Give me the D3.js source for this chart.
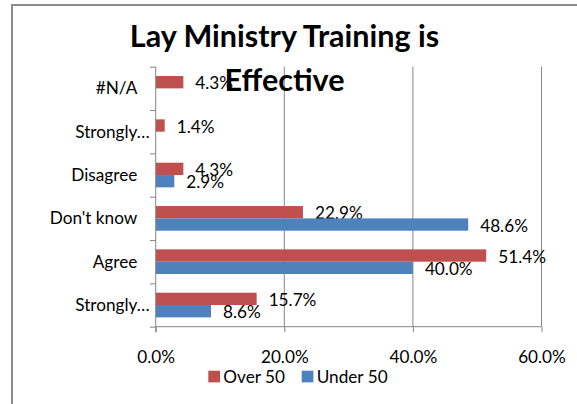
<!DOCTYPE html>
<html>
<head>
<meta charset="utf-8">
<script src="https://cdn.jsdelivr.net/npm/d3@7"></script>
<style>
  body { margin: 0; background: #fff; }
  svg { font-family: Lato, "Open Sans", sans-serif; }
</style>
</head>
<body>
<svg id="chart" width="577" height="404"></svg>
<script>
// categories top to bottom, as they appear in the chart
var categories = ["#N/A", "Strongly…", "Disagree", "Don't know", "Agree", "Strongly…."];
var seriesNames = ["Over 50", "Under 50"];
var over50 = [4.3, 1.4, 4.3, 22.9, 51.4, 15.7];
var under50 = [null, null, 2.9, 48.6, 40.0, 8.6];
var xTicks = [0, 20, 40, 60];
var colors = ["#C0504D", "#4F81BD"];

var svg = d3.select("#chart");
const margin = {top: 66.7, left: 155.7},
    plotW = 385.8,
    plotH = 260,
    fontSize = "17.2px";

// outer frame of the chart area
svg.append("rect")
    .attr("x", 12).attr("y", 5)
    .attr("width", 620).attr("height", 440)
    .attr("fill", "none")
    .attr("stroke", "#8c8c8c")
    .attr("stroke-width", 2);

var g = svg.append("g")
    .attr("transform", "translate(" + margin.left + "," + margin.top + ")");

var x = d3.scaleLinear().domain([0, 60]).range([0, plotW]);
var y = d3.scaleBand().domain(categories.map((c, i) => i)).range([0, plotH]);
var ySub = d3.scaleBand().domain([0, 1]).range([0, y.bandwidth()])
    .paddingInner(0).paddingOuter(0.757);

//gridlines
g.append("g").selectAll("line")
    .data(xTicks.slice(1))
    .enter().append("line")
    .attr("x1", d => x(d)).attr("x2", d => x(d))
    .attr("y1", 0).attr("y2", plotH)
    .attr("stroke", "#868686").attr("stroke-width", 1);

// bars: one group per category
var rows = categories.map((c, i) => ({i: i, vals: [over50[i], under50[i]]}));

var group = g.append("g").selectAll("g")
    .data(rows)
    .enter().append("g")
    .attr("transform", d => "translate(0," + y(d.i) + ")");

var bar = group.selectAll("g")
    .data(d => d.vals.map((v, s) => ({s: s, v: v})).filter(d => d.v != null))
    .enter().append("g");

bar.append("rect")
    .attr("x", 0)
    .attr("y", d => ySub(d.s))
    .attr("width", d => x(d.v))
    .attr("height", ySub.bandwidth())
    .attr("fill", d => colors[d.s]);

bar.append("text")
    .attr("x", d => x(d.v) + 12)
    .attr("y", d => ySub(d.s) + ySub.bandwidth() / 2 + 7.3)
    .attr("font-size", fontSize)
    .attr("fill", "#000")
    .text(d => d3.format(".1f")(d.v) + "%");

// y axis
var yAxis = d3.axisLeft(d3.scaleLinear().domain([0, 6]).range([0, plotH]))
    .tickValues(d3.range(7)).tickSize(5.7).tickFormat("");
var yg = g.append("g").call(yAxis);
yg.select(".domain").remove();
yg.selectAll(".tick line").attr("stroke", "#868686");
yg.append("line")
    .attr("x1", 0).attr("x2", 0).attr("y1", 0).attr("y2", plotH + 5.5)
    .attr("stroke", "#868686");

g.append("g").selectAll("text")
    .data(categories)
    .enter().append("text")
    .attr("x", d => d.startsWith("Strongly") ? -6 : -18.4)
    .attr("y", (d, i) => y(i) + y.bandwidth() / 2 + 5.9)
    .attr("text-anchor", "end")
    .attr("font-size", fontSize)
    .text(d => d.replace(/…\.*$/, "…"));

// x axis
var xAxis = d3.axisBottom(x).tickValues(xTicks).tickSize(5.5)
    .tickFormat(d => d3.format(".1f")(d) + "%");
var xg = g.append("g").attr("transform", "translate(0," + plotH + ")").call(xAxis);
xg.select(".domain").attr("stroke", "#868686").attr("d", "M0,0H" + plotW);
xg.selectAll(".tick line").attr("stroke", "#868686");
xg.selectAll(".tick text")
    .attr("font-family", "Lato, sans-serif")
    .attr("font-size", fontSize)
    .attr("fill", "#000")
    .attr("dy", 0).attr("y", 36.8);

// legend
var legend = svg.append("g").attr("transform", "translate(208.3,370.7)");
var legItem = legend.selectAll("g")
    .data(seriesNames)
    .enter().append("g")
    .attr("transform", (d, i) => "translate(" + (i * 93.4) + ",0)");
legItem.append("rect")
    .attr("width", 11.7).attr("height", 11.7)
    .attr("fill", (d, i) => colors[i]);
legItem.append("text")
    .attr("x", 15).attr("y", 11.8)
    .attr("font-size", fontSize)
    .text(d => d);

// title drawn last, on top of the gridlines
var title = svg.append("text")
    .attr("text-anchor", "middle")
    .attr("font-size", "30.5px")
    .attr("font-weight", "bold");
title.append("tspan").attr("x", 284.5).attr("y", 46.7).text("Lay Ministry Training is");
title.append("tspan").attr("x", 284.5).attr("y", 90.7).text("Effective");
</script>
</body>
</html>
